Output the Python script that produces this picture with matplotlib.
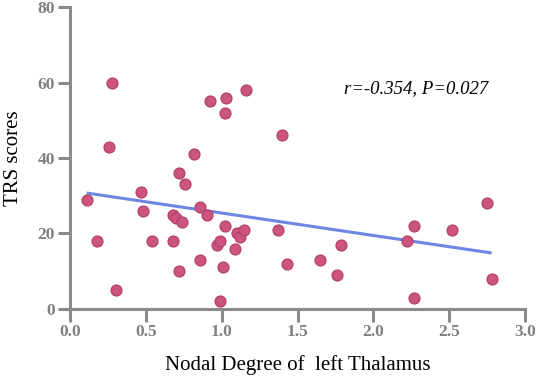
import numpy as np
import matplotlib
matplotlib.use("Agg")
import matplotlib.pyplot as plt

x_vals = [0.11, 0.18, 0.28, 0.26, 0.30, 0.47, 0.48, 0.54, 0.68, 0.68, 0.70, 0.74,
          0.72, 0.72, 0.76, 0.82, 0.86, 0.86, 0.90, 0.92, 0.97, 0.99, 1.01, 0.99,
          1.02, 1.03, 1.02, 1.16, 1.10, 1.12, 1.15, 1.09, 1.37, 1.43, 1.40, 1.65,
          1.79, 1.76, 2.22, 2.27, 2.27, 2.52, 2.75, 2.78]
y_vals = [29, 18, 60, 43, 5, 31, 26, 18, 18, 25, 24, 23,
          10, 36, 33, 41, 27, 13, 25, 55, 17, 18, 11, 2,
          22, 56, 52, 58, 20, 19, 21, 16, 21, 12, 46, 13,
          17, 9, 18, 22, 3, 21, 28, 8]
x_ticks = [0.0, 0.5, 1.0, 1.5, 2.0, 2.5, 3.0]
y_ticks = [0, 20, 40, 60, 80]
annotation = "r=-0.354, P=0.027"

plt.rcParams['font.family'] = ['Liberation Serif', 'DejaVu Serif']

fig = plt.figure(figsize=(5.36, 3.77), dpi=100)
ax = fig.add_axes([0.1306, 0.1804, 0.8489, 0.801])

x = np.array(x_vals)
y = np.array(y_vals)
slope, intercept = np.polyfit(x, y, 1)
xl = np.array([x.min(), x.max()])
ax.plot(xl, slope * xl + intercept, color='#6d86e3', lw=2.2, zorder=2, solid_capstyle='butt')
ax.scatter(x, y, s=62, color='#cc5580', edgecolors='#b5406b', linewidths=0.9, zorder=3)

ax.set_xlim(0, 3.0)
ax.set_ylim(0, 80)
ax.set_xticks(x_ticks)
ax.set_xticklabels([f"{t:.1f}" for t in x_ticks])
ax.set_yticks(y_ticks)
ax.set_yticklabels([str(t) for t in y_ticks])

gray = '#8a8a8a'
for side in ['top', 'right']:
    ax.spines[side].set_visible(False)
for side in ['left', 'bottom']:
    ax.spines[side].set_color(gray)
    ax.spines[side].set_linewidth(2.2)
ax.tick_params(axis='both', direction='out', length=9, width=2.2, color=gray,
               labelcolor='#808080', labelsize=12.5, pad=2)
for lab in ax.get_xticklabels() + ax.get_yticklabels():
    lab.set_fontweight('bold')

ax.set_xlabel("Nodal Degree of  left Thalamus", fontsize=15, color='black', labelpad=11)
ax.set_ylabel("TRS scores", fontsize=15, color='black', labelpad=10)

ax.text(2.28, 58.5, annotation, fontsize=13.5, style='italic', ha='center', va='center', color='black')

fig.savefig("out.png", dpi=100)
